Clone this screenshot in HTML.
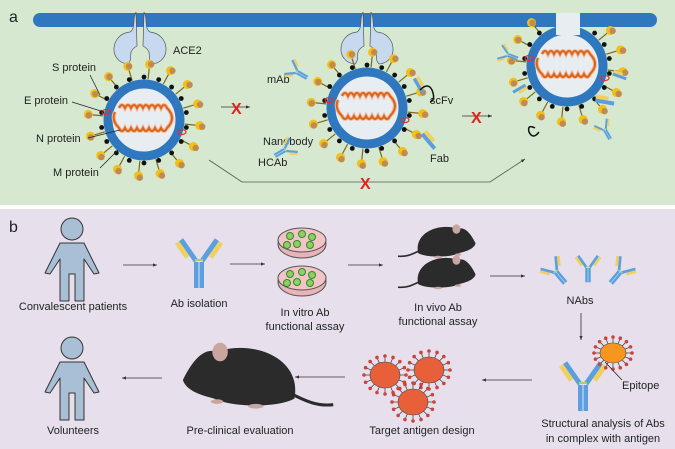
<!DOCTYPE html>
<html><head><meta charset="utf-8"><style>
html,body{margin:0;padding:0;background:#fff}
svg{display:block}
text{font-family:"Liberation Sans",Arial,sans-serif;font-size:11px;fill:#222}
</style></head><body>
<svg id="s" width="675" height="449" viewBox="0 0 675 449" xmlns="http://www.w3.org/2000/svg">
<defs>
<marker id="ar" markerWidth="6" markerHeight="6" refX="5" refY="3" orient="auto"><path d="M0,1 L5,3 L0,5 z" fill="#333"/></marker>
</defs>
<rect x="0" y="0" width="675" height="205" fill="#d6e8d0"/>
<rect x="0" y="209" width="675" height="240" fill="#e7e0ec"/>
<text x="9" y="22" style="font-size:16px">a</text>
<text x="9" y="232" style="font-size:16px">b</text>
<path d="M40,20 H540" stroke="#2f78bf" stroke-width="14" stroke-linecap="round"/>
<rect x="540" y="13" width="16" height="14" fill="#2f78bf"/>
<path d="M595,20 H650" stroke="#2f78bf" stroke-width="14" stroke-linecap="round"/>
<rect x="580" y="13" width="16" height="14" fill="#2f78bf"/>
<g id="viruses"></g>
<text x="173" y="54">ACE2</text>
<text x="52" y="71">S protein</text>
<text x="24" y="104">E protein</text>
<text x="36" y="142">N protein</text>
<text x="53" y="176">M protein</text>
<g stroke="#222" stroke-width="0.8">
<line x1="90" y1="75" x2="100" y2="95"/><line x1="72" y1="102" x2="104" y2="112"/>
<line x1="88" y1="138" x2="120" y2="130"/><line x1="100" y1="168" x2="118" y2="150"/>
</g>
<text x="267" y="83">mAb</text>
<text x="263" y="145">Nanobody</text>
<text x="258" y="166">HCAb</text>
<text x="430" y="104">scFv</text>
<text x="430" y="162">Fab</text>
<line x1="221" y1="107" x2="250" y2="107" stroke="#333" stroke-width="0.8" marker-end="url(#ar)"/>
<line x1="462" y1="116" x2="492" y2="116" stroke="#333" stroke-width="0.8" marker-end="url(#ar)"/>
<polyline points="209,160 242,182 490,182 525,159" fill="none" stroke="#555" stroke-width="0.8" marker-end="url(#ar)"/>
<g font-weight="bold"><text x="231" y="114" style="fill:#e3201b;font-size:16px">X</text>
<text x="471" y="123" style="fill:#e3201b;font-size:16px">X</text>
<text x="360" y="189" style="fill:#e3201b;font-size:16px">X</text></g>
<g id="abs"></g>
<g stroke="#333" stroke-width="0.8" marker-end="url(#ar)">
<line x1="123" y1="265" x2="157" y2="265"/><line x1="230" y1="264" x2="265" y2="264"/>
<line x1="348" y1="265" x2="383" y2="265"/><line x1="490" y1="276" x2="525" y2="276"/>
<line x1="581" y1="313" x2="581" y2="340"/><line x1="532" y1="380" x2="482" y2="380"/>
<line x1="345" y1="377" x2="295" y2="377"/><line x1="162" y1="378" x2="122" y2="378"/>
</g>
<text x="73" y="310" text-anchor="middle">Convalescent patients</text>
<text x="199" y="307" text-anchor="middle">Ab isolation</text>
<text x="305" y="316" text-anchor="middle">In vitro Ab</text>
<text x="305" y="330" text-anchor="middle">functional assay</text>
<text x="438" y="311" text-anchor="middle">In vivo Ab</text>
<text x="438" y="325" text-anchor="middle">functional assay</text>
<text x="580" y="304" text-anchor="middle">NAbs</text>
<text x="622" y="389">Epitope</text>
<text x="603" y="427" text-anchor="middle">Structural analysis of Abs</text>
<text x="603" y="442" text-anchor="middle">in complex with antigen</text>
<text x="422" y="434" text-anchor="middle">Target antigen design</text>
<text x="240" y="434" text-anchor="middle">Pre-clinical evaluation</text>
<text x="73" y="434" text-anchor="middle">Volunteers</text>
<g id="b"></g>
</svg>
<script>
var NS="http://www.w3.org/2000/svg";
function add(p,tag,a){var e=document.createElementNS(NS,tag);for(var k in a)e.setAttribute(k,a[k]);p.appendChild(e);return e;}
var V=document.getElementById('viruses'),B=document.getElementById('b'),A=document.getElementById('abs');
function ace(cx){var g=add(V,'g',{});
 add(g,'path',{d:"M"+(cx-4)+",12 C"+(cx-8)+",20 "+(cx-4)+",28 "+(cx-10)+",32 C"+(cx-30)+",34 "+(cx-32)+",62 "+(cx-12)+",64 C"+(cx-6)+",58 "+(cx-14)+",52 "+(cx-3)+",46 Z",fill:"#c6d9ef",stroke:"#555","stroke-width":0.7});
 add(g,'path',{d:"M"+(cx+4)+",12 C"+(cx+8)+",20 "+(cx+4)+",28 "+(cx+10)+",32 C"+(cx+30)+",34 "+(cx+32)+",62 "+(cx+12)+",64 C"+(cx+6)+",58 "+(cx+14)+",52 "+(cx+3)+",46 Z",fill:"#c6d9ef",stroke:"#555","stroke-width":0.7});}
function virus(cx,cy,skipTop){
 var n=16;
 for(var i=0;i<n;i++){var t=i/n*2*Math.PI+0.1;
  if(skipTop && Math.sin(t)<-0.85) continue;
  var x1=cx+41*Math.cos(t),y1=cy+41*Math.sin(t),x2=cx+54*Math.cos(t),y2=cy+54*Math.sin(t);
  add(V,'line',{x1:x1,y1:y1,x2:x2,y2:y2,stroke:"#7a6a20","stroke-width":1.2});
  add(V,'circle',{cx:x2+2*Math.cos(t),cy:y2+2*Math.sin(t),r:4.5,fill:"#f2c018"});
  add(V,'circle',{cx:x2+3*Math.cos(t)+1.5,cy:y2+3*Math.sin(t)+1,r:3.2,fill:"#c08a55"});}
 add(V,'circle',{cx:cx,cy:cy,r:36,fill:"#e8edf2",stroke:"#2f78bf","stroke-width":9});
 for(var i=0;i<18;i++){var t=(i+0.5)/18*2*Math.PI;if(skipTop && Math.sin(t)<-0.85) continue;add(V,'circle',{cx:cx+43*Math.cos(t),cy:cy+43*Math.sin(t),r:2.4,fill:"#111"});}
 add(V,'ellipse',{cx:cx-38,cy:cy-8,rx:4,ry:2.5,fill:"none",stroke:"#e03030","stroke-width":1.2});
 add(V,'ellipse',{cx:cx+38,cy:cy+12,rx:4,ry:2.5,fill:"none",stroke:"#e03030","stroke-width":1.2});
 var d="M"+(cx-25)+","+(cy-12);for(var k=0;k<8;k++){d+=" q3,-6 6,0";}d+=" q10,10 0,20";for(var k=0;k<8;k++){d+=" q-3,6 -6,0";}d+=" q-8,-8 -4,-16";
 add(V,'path',{d:d,fill:"none",stroke:"#f4b89a","stroke-width":4});
 add(V,'path',{d:d,fill:"none",stroke:"#d8661a","stroke-width":2});}
ace(140);ace(367);
virus(144,120);virus(367,108);virus(567,66,true);
add(V,'rect',{x:556,y:13,width:24,height:22,fill:"#e8edf2"});
function arm(g,side){var a=add(g,'g',{transform:"translate("+(side*3)+",-1) rotate("+(side*35)+")"});
 add(a,'rect',{x:-2.5,y:-26,width:5,height:26,fill:"#5aa0e0"});
 add(a,'rect',{x:side>0?2.5:-7.5,y:-26,width:5,height:18,fill:"#f0d060"});}
function ab(p,x,y,s,r){var g=add(p,'g',{transform:"translate("+x+","+y+") rotate("+r+") scale("+s+")"});
 add(g,'rect',{x:-5,y:0,width:4.5,height:26,fill:"#5aa0e0"});add(g,'rect',{x:0.5,y:0,width:4.5,height:26,fill:"#5aa0e0"});
 arm(g,-1);arm(g,1);
 add(g,'rect',{x:-4,y:-3,width:8,height:2,fill:"#a8d070"});}
function fab(p,x,y,s,r){var g=add(p,'g',{transform:"translate("+x+","+y+") rotate("+r+") scale("+s+")"});
 add(g,'rect',{x:-5,y:-12,width:5,height:24,fill:"#5aa0e0"});add(g,'rect',{x:0,y:-12,width:5,height:16,fill:"#f0d060"});}
ab(A,297,72,0.45,-60);ab(A,285,150,0.45,60);ab(A,508,55,0.4,-70);ab(A,605,130,0.4,-30);
fab(A,430,140,0.8,-40);fab(A,605,100,0.8,-80);fab(A,420,85,0.7,-30);fab(A,520,90,0.6,60);fab(A,620,75,0.6,-70);
add(A,'path',{d:"M420,90 q8,-8 12,0 q4,10 -2,12",fill:"none",stroke:"#111","stroke-width":1.5});
add(A,'path',{d:"M535,128 q-8,-4 -6,4 q4,8 10,0",fill:"none",stroke:"#111","stroke-width":1.5});
function person(cx,cy){add(B,'circle',{cx:cx,cy:cy,r:11,fill:"#a9bfd6",stroke:"#333","stroke-width":1});
 add(B,'path',{d:"M"+(cx-12)+","+(cy+14)+" H"+(cx+12)+" L"+(cx+27)+","+(cy+44)+" L"+(cx+22)+","+(cy+45)+" L"+(cx+12)+","+(cy+30)+" V"+(cy+72)+" H"+(cx+3)+" V"+(cy+45)+" H"+(cx-3)+" V"+(cy+72)+" H"+(cx-12)+" V"+(cy+30)+" L"+(cx-22)+","+(cy+45)+" L"+(cx-27)+","+(cy+44)+" Z",fill:"#a9bfd6",stroke:"#333","stroke-width":1,"stroke-linejoin":"round"});}
person(72,229);person(72,348);
ab(B,199,262,1.0,0);
function dish(cx,cy){add(B,'ellipse',{cx:cx,cy:cy+4,rx:24,ry:14,fill:"#e9b3b8",stroke:"#555","stroke-width":1});
 add(B,'ellipse',{cx:cx,cy:cy,rx:24,ry:12,fill:"#f2c4c6",stroke:"#555","stroke-width":1});
 [[-12,-4],[0,-6],[10,-3],[-5,4],[8,5],[-15,5]].forEach(function(o){add(B,'circle',{cx:cx+o[0],cy:cy+o[1],r:3.5,fill:"#8fd060",stroke:"#2e8a2e","stroke-width":1});});}
dish(302,240);dish(302,278);
function mouse(x,y,s,fl){var g=add(B,'g',{transform:"translate("+x+","+y+") scale("+(fl?-s:s)+","+s+")"});
 add(g,'path',{d:"M-30,10 C-35,-18 0,-28 20,-20 C30,-24 38,-10 42,-2 C40,5 30,8 22,10 C10,16 -20,16 -30,10 Z",fill:"#2b2b2b"});
 add(g,'ellipse',{cx:18,cy:-20,rx:5,ry:6,fill:"#c9a6a0"});
 add(g,'path',{d:"M-30,8 C-38,12 -45,15 -55,14",stroke:"#2b2b2b","stroke-width":2,fill:"none"});
 add(g,'ellipse',{cx:-5,cy:15,rx:5,ry:1.5,fill:"#c9a6a0"});add(g,'ellipse',{cx:20,cy:12,rx:4,ry:1.5,fill:"#c9a6a0"});}
mouse(442,245,0.8,false);mouse(442,276,0.8,false);mouse(248,383,1.55,true);
ab(B,556,272,0.55,-40);ab(B,588,268,0.55,0);ab(B,620,272,0.55,40);
ab(B,583,385,1.0,0);
function antigen(cx,cy,rx,ry,col){for(var i=0;i<16;i++){var t=i/16*2*Math.PI;add(B,'line',{x1:cx+rx*Math.cos(t),y1:cy+ry*Math.sin(t),x2:cx+(rx+5)*Math.cos(t),y2:cy+(ry+5)*Math.sin(t),stroke:"#333","stroke-width":0.7});
 add(B,'circle',{cx:cx+(rx+6)*Math.cos(t),cy:cy+(ry+6)*Math.sin(t),r:1.8,fill:"#c9453a"});}
 add(B,'ellipse',{cx:cx,cy:cy,rx:rx,ry:ry,fill:col,stroke:"#444","stroke-width":0.6});}
antigen(385,375,15,13,"#e8603a");antigen(429,370,15,13,"#e8603a");antigen(413,402,15,13,"#e8603a");
antigen(613,353,13,10,"#f7961e");
add(B,'line',{x1:605,y1:362,x2:622,y2:380,stroke:"#222","stroke-width":0.8});
</script>
</body></html>
